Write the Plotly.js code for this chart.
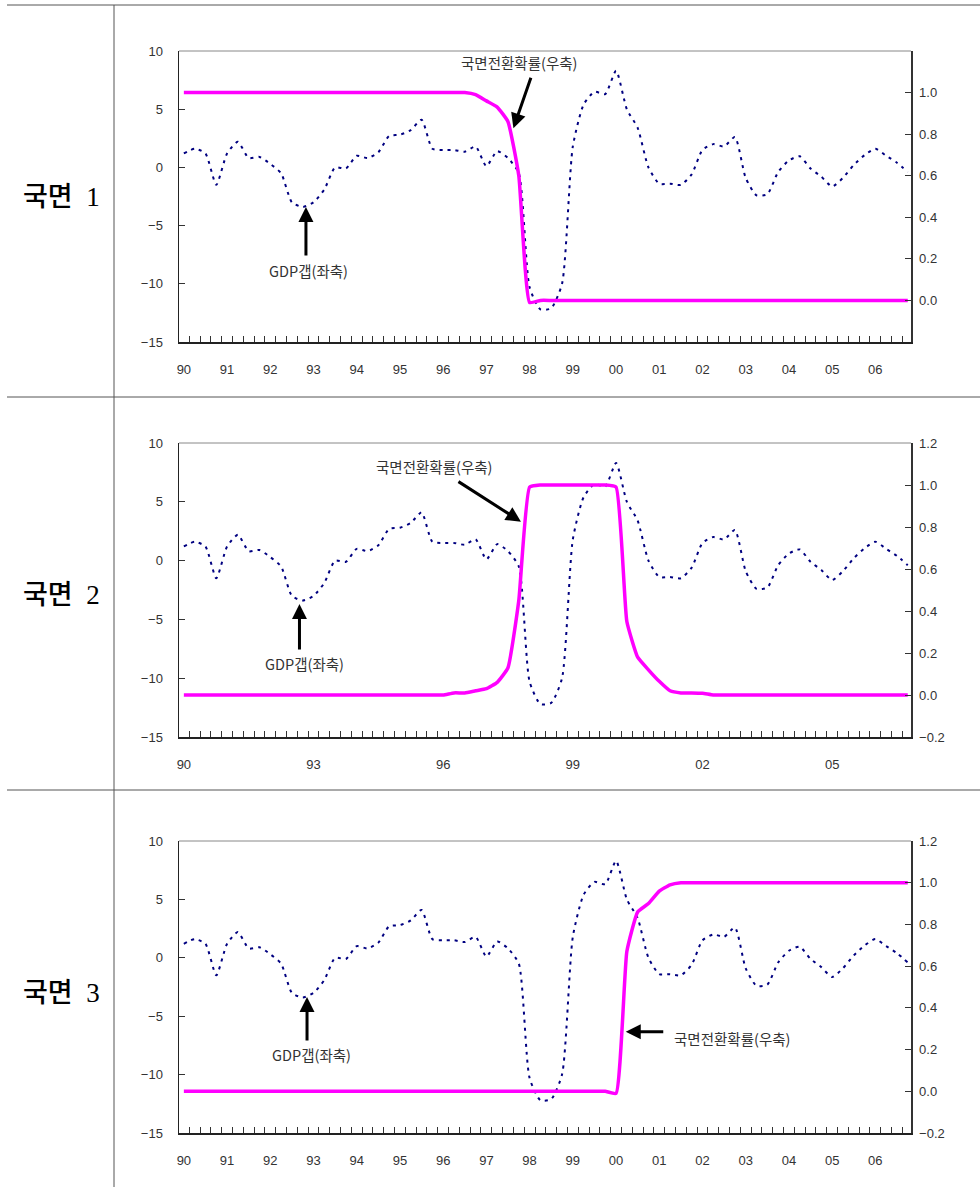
<!DOCTYPE html>
<html>
<head>
<meta charset="utf-8">
<script src="https://cdn.plot.ly/plotly-3.0.1.min.js"></script>
<style>
  html, body { margin: 0; padding: 0; background: #fff; }
  #chart { width: 980px; height: 1187px; }
</style>
</head>
<body>
<div id="chart"></div>
<script>
// Year labels and quarterly categories, 1990Q1 - 2006Q4
const yearLabels = ['90','91','92','93','94','95','96','97','98','99','00','01','02','03','04','05','06'];
const quarterLabels = yearLabels.flatMap(y => ['Q1','Q2','Q3','Q4'].map(q => y + q));

// GDP gap (%, left axis)
const gdpGap = [
  1.2, 1.6, 1.2, -1.5,
  1.2, 2.2, 0.8, 0.9,
  0.3, -0.5, -3.0, -3.4,
  -3.0, -1.9, 0.0, -0.1,
  1.0, 0.8, 1.3, 2.7,
  2.8, 3.2, 4.1, 1.6,
  1.5, 1.5, 1.35, 1.8,
  0.1, 1.4, 0.8, -0.5,
  -10.3, -12.2, -12.1, -10.0,
  1.8, 5.4, 6.5, 6.3,
  8.3, 5.0, 3.4, 0.0,
  -1.4, -1.4, -1.5, -0.6,
  1.5, 2.0, 1.8, 2.6,
  -0.9, -2.4, -2.3, -0.4,
  0.6, 0.95, -0.1, -0.8,
  -1.65, -0.9, 0.2, 1.05,
  1.6, 1.0, 0.4, -0.4
];

// Regime-switching probabilities (right axis)
const regime1Prob = [
  1, 1, 1, 1,  1, 1, 1, 1,  1, 1, 1, 1,  1, 1, 1, 1,
  1, 1, 1, 1,  1, 1, 1, 1,  1, 1, 1, 0.99,
  0.96, 0.93, 0.86, 0.6,
  -0.01, 0, 0, 0,  0, 0, 0, 0,  0, 0, 0, 0,  0, 0, 0, 0,
  0, 0, 0, 0,  0, 0, 0, 0,  0, 0, 0, 0,  0, 0, 0, 0,  0, 0, 0, 0
];
const regime2Prob = [
  0, 0, 0, 0,  0, 0, 0, 0,  0, 0, 0, 0,  0, 0, 0, 0,
  0, 0, 0, 0,  0, 0, 0, 0,  0, 0.01, 0.01, 0.02,
  0.03, 0.06, 0.13, 0.45,
  0.99, 1, 1, 1,  1, 1, 1, 1,
  0.99, 0.35, 0.18, 0.12,  0.065, 0.02, 0.01, 0.01,
  0.008, 0, 0, 0,  0, 0, 0, 0,  0, 0, 0, 0,  0, 0, 0, 0,  0, 0, 0, 0
];
const regime3Prob = [
  0, 0, 0, 0,  0, 0, 0, 0,  0, 0, 0, 0,  0, 0, 0, 0,
  0, 0, 0, 0,  0, 0, 0, 0,  0, 0, 0, 0,  0, 0, 0, 0,
  0, 0, 0, 0,  0, 0, 0, 0,
  -0.01, 0.67, 0.86, 0.9,  0.96, 0.99, 1, 1,
  1, 1, 1, 1,  1, 1, 1, 1,  1, 1, 1, 1,  1, 1, 1, 1,  1, 1, 1, 1
];

const panelLabels = ['국면&nbsp;&nbsp;1', '국면&nbsp;&nbsp;2', '국면&nbsp;&nbsp;3'];
const gdpLabel = 'GDP갭(좌축)';
const probLabel = '국면전환확률(우축)';

const W = 980, H = 1187;
const px = x => x / W;
const py = y => 1 - y / H;
const xIdx = quarterLabels.map((_, i) => i);

const tickFont = { family: 'Liberation Sans, Arial, sans-serif', size: 13, color: '#333' };
const noteFont = { family: 'Noto Sans CJK KR, sans-serif', size: 14.5, color: '#333' };

const panels = [
  { top: 51,  bottom: 342,  prob: regime1Prob, labelStep: 1, rightTicks: [0, 0.2, 0.4, 0.6, 0.8, 1.0], labelY: 197,
    notes: [
      { x: 30.5, y: 3.36, ax: 18, ay: -52 },
      { x: 11.3, y: -3.4, ax: 0, ay: 50 }
    ],
    texts: [
      { x: 11.5, y: -8.84, t: gdpLabel },
      { x: 31.1, y: 9.05, t: probLabel }
    ] },
  { top: 443, bottom: 737,  prob: regime2Prob, labelStep: 3, rightTicks: [-0.2, 0, 0.2, 0.4, 0.6, 0.8, 1.0, 1.2], labelY: 595,
    notes: [
      { x: 31.2, y: 3.31, ax: -64, ay: -41 },
      { x: 10.7, y: -3.69, ax: 0, ay: 47 }
    ],
    texts: [
      { x: 11.2, y: -8.71, t: gdpLabel },
      { x: 23.2, y: 7.96, t: probLabel }
    ] },
  { top: 841, bottom: 1133, prob: regime3Prob, labelStep: 1, rightTicks: [-0.2, 0, 0.2, 0.4, 0.6, 0.8, 1.0, 1.2], labelY: 993,
    notes: [
      { x: 11.4, y: -3.36, ax: 0, ay: 45 },
      { x: 40.9, y: -6.33, ax: 39, ay: 0 }
    ],
    texts: [
      { x: 11.8, y: -8.24, t: gdpLabel },
      { x: 50.8, y: -6.87, t: probLabel }
    ] }
];

const traces = [];
const layout = {
  width: W, height: H,
  margin: { l: 0, r: 0, t: 0, b: 0 },
  paper_bgcolor: '#fff', plot_bgcolor: 'rgba(0,0,0,0)',
  showlegend: false,
  shapes: [],
  annotations: []
};

const plotLeft = 179, plotRight = 911;
const halfSteps = xIdx.slice(0, -1).map(i => i + 0.5);

panels.forEach((p, k) => {
  const xs = k === 0 ? '' : String(k + 1);
  const yl = 2 * k + 1, yr = 2 * k + 2;
  const ylName = yl === 1 ? '' : String(yl);
  const xRef = 'x' + xs, ylRef = 'y' + ylName, yrRef = 'y' + yr;

  const labelIdx = [];
  for (let i = 0; i < yearLabels.length; i += p.labelStep) labelIdx.push(i);

  layout['xaxis' + xs] = {
    domain: [px(plotLeft), px(plotRight)],
    anchor: ylRef,
    range: [-0.45, 67.3],
    showgrid: false, zeroline: false,
    showline: true, linecolor: '#222', linewidth: 2,
    tickmode: 'array',
    tickvals: labelIdx.map(i => i * 4),
    ticktext: labelIdx.map(i => yearLabels[i]),
    ticks: '',
    ticklabelstandoff: 14,
    tickfont: tickFont,
    minor: { tickmode: 'array', tickvals: halfSteps, ticks: 'inside', ticklen: 6, tickcolor: '#333', tickwidth: 1 }
  };
  layout['yaxis' + ylName] = {
    domain: [py(p.bottom), py(p.top)],
    anchor: xRef,
    range: [-15, 10],
    tickmode: 'array', tickvals: [-15, -10, -5, 0, 5, 10],
    ticks: 'inside', ticklen: 6, tickcolor: '#333',
    showgrid: false, zeroline: false,
    showline: true, linecolor: '#222', linewidth: 1.5,
    ticklabelstandoff: 12,
    tickfont: tickFont
  };
  layout['yaxis' + yr] = {
    domain: [py(p.bottom), py(p.top)],
    anchor: xRef,
    overlaying: ylRef,
    side: 'right',
    range: [-0.2, 1.2],
    tickmode: 'array', tickvals: p.rightTicks, tickformat: '.1f',
    ticks: 'inside', ticklen: 6, tickcolor: '#333',
    showgrid: false, zeroline: false,
    showline: true, linecolor: '#333', linewidth: 1.5,
    ticklabelstandoff: 4,
    tickfont: tickFont
  };

  traces.push({
    x: xIdx, y: gdpGap, xaxis: xRef, yaxis: ylRef,
    type: 'scatter', mode: 'lines', name: gdpLabel,
    line: { color: '#000080', width: 2, dash: '3px,5px', shape: 'spline', smoothing: 0.6 },
    hoverinfo: 'skip'
  });
  traces.push({
    x: xIdx, y: p.prob, xaxis: xRef, yaxis: yrRef,
    type: 'scatter', mode: 'lines', name: probLabel,
    line: { color: '#ff00ff', width: 3.5, shape: 'spline', smoothing: 0.4 },
    hoverinfo: 'skip'
  });

  // top frame line of the plot area
  layout.shapes.push({
    type: 'line', xref: 'paper', yref: 'paper',
    x0: px(plotLeft), x1: px(plotRight), y0: py(p.top), y1: py(p.top),
    line: { color: '#888', width: 1 }
  });

  p.notes.forEach(n => layout.annotations.push({
    xref: xRef, yref: ylRef, x: n.x, y: n.y, ax: n.ax, ay: n.ay,
    text: '', showarrow: true, arrowhead: 2, arrowsize: 1, arrowwidth: 3, arrowcolor: '#000'
  }));
  p.texts.forEach(t => layout.annotations.push({
    xref: xRef, yref: ylRef, x: t.x, y: t.y, text: t.t,
    showarrow: false, font: noteFont
  }));

  layout.annotations.push({
    xref: 'paper', yref: 'paper', x: px(61), y: py(p.labelY),
    xanchor: 'center', yanchor: 'middle',
    text: panelLabels[k], showarrow: false,
    font: { family: 'Liberation Serif, Noto Sans CJK KR, serif', size: 27, color: '#000', weight: 500 }
  });
});

// table rules around the panels
[5, 397, 790].forEach(y => layout.shapes.push({
  type: 'line', xref: 'paper', yref: 'paper',
  x0: px(7), x1: 1, y0: py(y), y1: py(y),
  line: { color: '#555', width: 1 }
}));
layout.shapes.push({
  type: 'line', xref: 'paper', yref: 'paper',
  x0: px(114), x1: px(114), y0: 0, y1: py(5),
  line: { color: '#555', width: 1 }
});

Plotly.newPlot('chart', traces, layout, { staticPlot: true, displayModeBar: false });
</script>
</body>
</html>
